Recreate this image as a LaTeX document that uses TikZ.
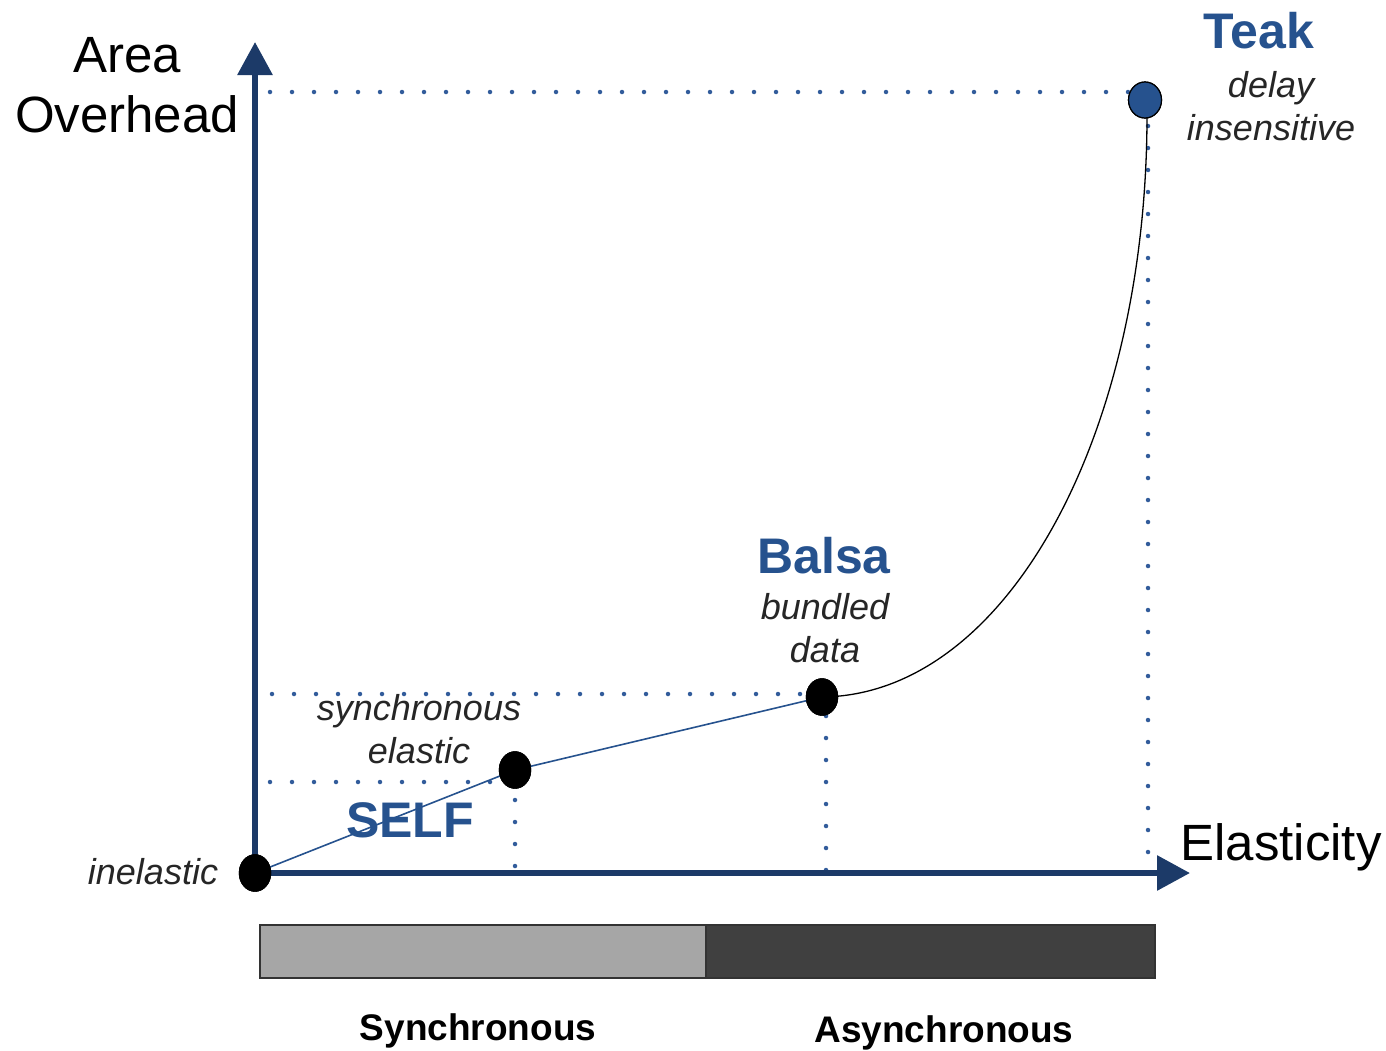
\documentclass[tikz,border=0pt]{standalone}
\usepackage{fontspec}
\setmainfont{Liberation Sans}
\usetikzlibrary{arrows.meta,shapes.geometric}
\definecolor{axisblue}{RGB}{28,58,104}
\definecolor{textblue}{RGB}{38,82,142}
\definecolor{dotblue}{RGB}{50,92,155}
\definecolor{lightbar}{RGB}{166,166,166}
\definecolor{darkbar}{RGB}{64,64,64}
\tikzset{
  axis/.style={draw=axisblue, line width=6pt, -{Triangle[length=33pt,width=34pt]}},
  guide/.style={draw=dotblue, line width=4.5pt, line cap=round, dash pattern=on 0pt off 22pt},
  pt/.style={ellipse, draw=black, fill=black, minimum width=32pt, minimum height=37pt, inner sep=0pt},
  teakpt/.style={pt, fill=textblue, minimum width=33pt, minimum height=36pt, line width=1.2pt},
  bigtxt/.style={font=\fontsize{51}{60}\selectfont, anchor=base},
  brand/.style={font=\fontsize{50}{58}\selectfont\bfseries, text=textblue, anchor=base},
  itxt/.style={font=\fontsize{36}{43}\selectfont\itshape, text=black!85, align=center, anchor=base},
  bartxt/.style={font=\fontsize{37}{43}\selectfont\bfseries, anchor=base},
}
\begin{document}
\begin{tikzpicture}[x=1pt,y=-1pt]
\useasboundingbox (0,0) rectangle (1386,1050);
% coordinates
\coordinate (O) at (255,873);
\coordinate (ytip) at (255,42);
\coordinate (xtip) at (1190,873);
% guides
\coordinate (g1a) at (270,92);  \coordinate (g1b) at (1130,92);
\coordinate (g2a) at (1148,126); \coordinate (g2b) at (1148,868);
\coordinate (g3a) at (272,694); \coordinate (g3b) at (812,694);
\coordinate (g4a) at (826,716); \coordinate (g4b) at (826,870);
\coordinate (g5a) at (270,782); \coordinate (g5b) at (500,782);
\coordinate (g6a) at (515,800); \coordinate (g6b) at (515,866);
\draw[guide] (g1a) -- (g1b);
\draw[guide] (g2a) -- (g2b);
\draw[guide] (g3a) -- (g3b);
\draw[guide] (g4a) -- (g4b);
\draw[guide] (g5a) -- (g5b);
\draw[guide] (g6a) -- (g6b);
% axes
\draw[axis] (O) -- (ytip);
\draw[axis] (O) -- (xtip);
% points
\node[pt] (p0) at (255,873) {};
\node[pt] (pself) at (515,770) {};
\node[pt] (pbalsa) at (822,697) {};
\node[teakpt] (pteak) at (1145,100) {};
% curves
\draw[draw=textblue, line width=1.6pt] (p0.center) -- (pself.center) -- (pbalsa.center);
\draw[black, line width=1.3pt] (pbalsa.center) .. controls (1007,695) and (1147,435) .. (1147,115);
\node[pt] at (pbalsa) {};
\node[pt] at (p0) {};
\node[pt] at (pself) {};
\node[teakpt] at (pteak) {};
% labels
\node[bigtxt, align=center] (lArea) at (127,132) {Area\\Overhead};
\node[bigtxt] (lElast) at (1281,860) {Elasticity};
\node[brand] (lTeak) at (1259,48) {Teak};
\node[itxt] (lTeakSub) at (1271,140) {delay\\insensitive};
\node[brand] (lBalsa) at (824,573) {Balsa};
\node[itxt] (lBalsaSub) at (825,662) {bundled\\data};
\node[itxt] (lSelfSub) at (419,763) {synchronous\\elastic};
\node[brand] (lSelf) at (410,837) {SELF};
\node[itxt] (lInel) at (153,884) {inelastic};
% bar
\fill[lightbar] (260,925) rectangle (706,978);
\fill[darkbar] (706,925) rectangle (1155,978);
\draw[black!80, line width=1.8pt] (260,925) rectangle (1155,978);
\draw[black!80, line width=1.2pt] (706,925) -- (706,978);
\node[bartxt] (lSync) at (478,1040) {Synchronous};
\node[bartxt] (lAsync) at (944,1042) {Asynchronous};
\end{tikzpicture}
\end{document}
